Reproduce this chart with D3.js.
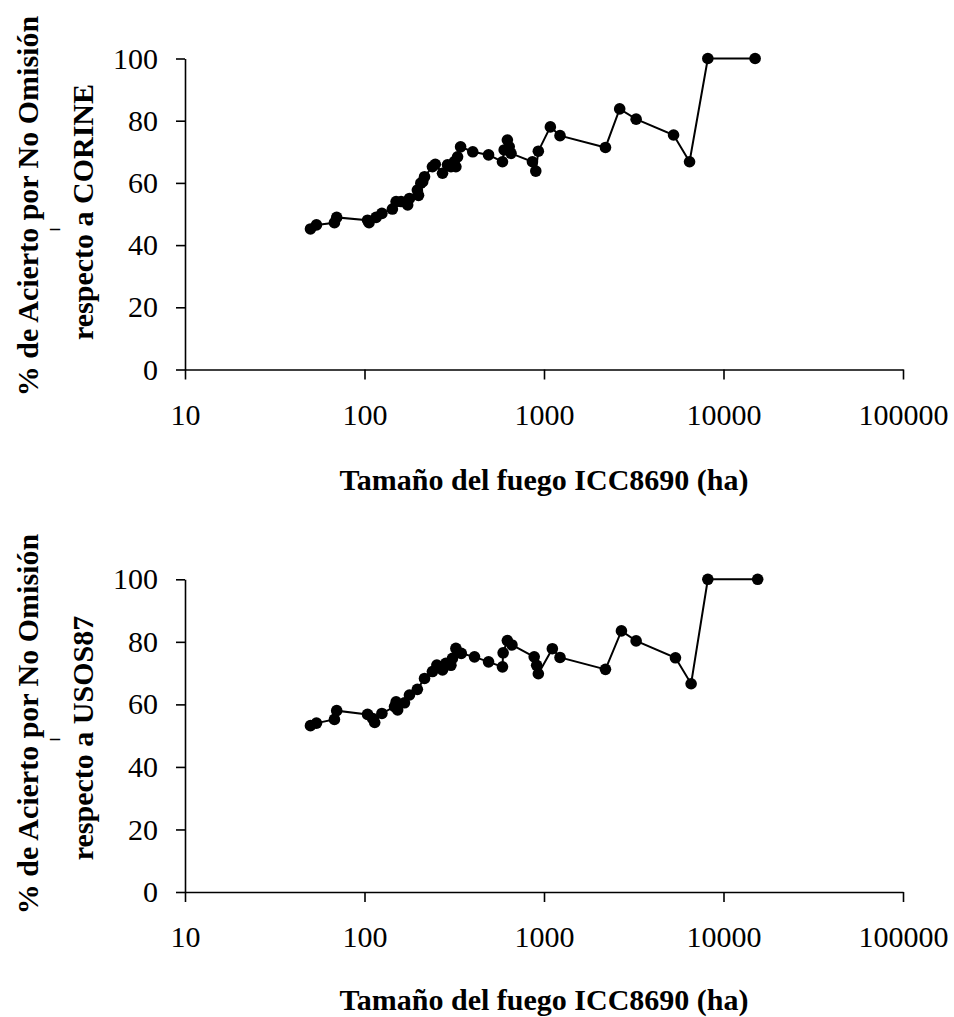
<!DOCTYPE html>
<html>
<head>
<meta charset="utf-8">
<script src="https://cdn.jsdelivr.net/npm/d3@7"></script>
<style>
  html, body { margin: 0; padding: 0; background: #fff; }
  svg { display: block; }
  text { font-family: "Liberation Serif", "Times New Roman", serif; fill: #000; }
</style>
</head>
<body>
<svg id="chart" width="954" height="1017"></svg>
<script>
// ---- Data ----
const xTickValues = [10, 100, 1000, 10000, 100000];
const xTickLabels = ["10", "100", "1000", "10000", "100000"];
const yTickValues = [0, 20, 40, 60, 80, 100];
const xTitle = "Tamaño del fuego ICC8690 (ha)";
const yTitleLine1 = "% de Acierto por No Omisión";
const yTitleLine3Top = "respecto a CORINE";
const yTitleLine3Bottom = "respecto a USOS87";

// Top panel: fire size (ha) vs % accuracy respect to CORINE
const sizeCorine = [50, 54, 68, 70, 104, 106, 116, 125, 143, 150, 160, 174, 178, 197, 200, 206, 211, 216, 239, 248, 272, 290, 303, 316, 323, 330, 343, 401, 491, 587, 600, 625, 640, 655, 862, 900, 930, 1085, 1228, 2200, 2640, 3260, 5270, 6470, 8180, 15000];
const pctCorine  = [45.2, 46.5, 47.2, 48.9, 48.0, 47.2, 48.9, 50.2, 51.6, 54.0, 54.0, 52.9, 55.0, 57.7, 56.0, 59.9, 60.4, 62.0, 65.2, 66.0, 63.1, 65.8, 65.2, 66.8, 65.2, 68.4, 71.6, 70.0, 69.0, 66.8, 70.6, 73.8, 71.6, 69.5, 66.8, 63.8, 70.2, 78.0, 75.2, 71.4, 83.8, 80.5, 75.4, 66.8, 100, 100];

// Bottom panel: fire size (ha) vs % accuracy respect to USOS87
const sizeUsos = [50, 54, 68, 70, 104, 111, 114, 125, 147, 150, 153, 167, 178, 197, 216, 239, 253, 272, 284, 303, 309, 323, 346, 410, 491, 587, 592, 625, 663, 882, 910, 930, 1113, 1228, 2200, 2700, 3260, 5400, 6600, 8180, 15500];
const pctUsos  = [53.2, 54.0, 55.2, 58.0, 56.8, 55.5, 54.2, 57.1, 59.3, 60.8, 58.2, 60.5, 63.0, 64.8, 68.3, 70.5, 72.6, 71.0, 73.1, 72.5, 74.7, 77.9, 76.3, 75.2, 73.6, 72.0, 76.5, 80.4, 79.0, 75.2, 72.5, 69.8, 77.8, 75.0, 71.2, 83.5, 80.3, 74.9, 66.6, 100, 100];

// ---- Drawing ----
const svg = d3.select("#chart");
const FONT = 30;

function panel(cfg) {
  const g = svg.append("g");
  const x = d3.scaleLog().domain([10, 100000]).range([185, 903]);
  const y = d3.scaleLinear().domain([0, 100]).range([cfg.y0, cfg.y100]);

  // Y axis
  const yAxis = d3.axisLeft(y).tickValues(yTickValues).tickFormat(d3.format("d"))
    .tickSize(9).tickSizeOuter(0).tickPadding(18);
  const ya = g.append("g").attr("transform", `translate(${x(10)},0)`).call(yAxis);
  ya.select(".domain").attr("stroke", "#000").attr("stroke-width", 1.6);
  ya.selectAll(".tick line").attr("stroke", "#000").attr("stroke-width", 1.6);
  ya.selectAll(".tick text").attr("font-size", FONT).attr("font-family", "Liberation Serif").attr("fill", "#000");

  // X axis
  const xAxis = d3.axisBottom(x).tickValues(xTickValues)
    .tickFormat((d, i) => xTickLabels[i]).tickSize(10).tickSizeOuter(0).tickPadding(24);
  const xa = g.append("g").attr("transform", `translate(0,${y(0)})`).call(xAxis);
  xa.select(".domain").attr("stroke", "#000").attr("stroke-width", 1.6);
  xa.selectAll(".tick line").attr("stroke", "#000").attr("stroke-width", 1.6);
  xa.selectAll(".tick text").attr("font-size", FONT).attr("font-family", "Liberation Serif").attr("fill", "#000");

  // X title
  g.append("text")
    .attr("x", (x(10) + x(100000)) / 2)
    .attr("y", cfg.titleY)
    .attr("text-anchor", "middle")
    .attr("font-size", FONT)
    .attr("font-weight", "bold")
    .text(xTitle);

  // Y title (three lines: text, dash, text)
  g.append("text")
    .attr("transform", `translate(27,${cfg.l1Y}) rotate(-90)`)
    .attr("text-anchor", "middle")
    .attr("dy", "0.35em")
    .attr("font-size", FONT)
    .attr("font-weight", "bold")
    .text(yTitleLine1);
  g.append("text")
    .attr("x", 55)
    .attr("y", cfg.dashY)
    .attr("text-anchor", "middle")
    .attr("dy", "0.35em")
    .attr("font-size", 20)
    .attr("font-weight", "bold")
    .text("–");
  g.append("text")
    .attr("transform", `translate(82,${cfg.l3Y}) rotate(-90)`)
    .attr("text-anchor", "middle")
    .attr("dy", "0.35em")
    .attr("font-size", FONT)
    .attr("font-weight", "bold")
    .text(cfg.line3);

  // Line + markers
  const pts = cfg.xs.map((v, i) => [v, cfg.ys[i]]);
  const line = d3.line().x(d => x(d[0])).y(d => y(d[1]));
  g.append("path").datum(pts)
    .attr("fill", "none").attr("stroke", "#000").attr("stroke-width", 2)
    .attr("d", line);
  g.selectAll("circle.pt").data(pts).enter().append("circle")
    .attr("class", "pt")
    .attr("cx", d => x(d[0])).attr("cy", d => y(d[1]))
    .attr("r", 5.8).attr("fill", "#000");
}

panel({ y0: 369.5, y100: 58.5, titleY: 490, l1Y: 206, l3Y: 212, dashY: 228, line3: yTitleLine3Top, xs: sizeCorine, ys: pctCorine });
panel({ y0: 892, y100: 579.3, titleY: 1010, l1Y: 724, l3Y: 738, dashY: 738, line3: yTitleLine3Bottom, xs: sizeUsos, ys: pctUsos });
</script>
</body>
</html>
